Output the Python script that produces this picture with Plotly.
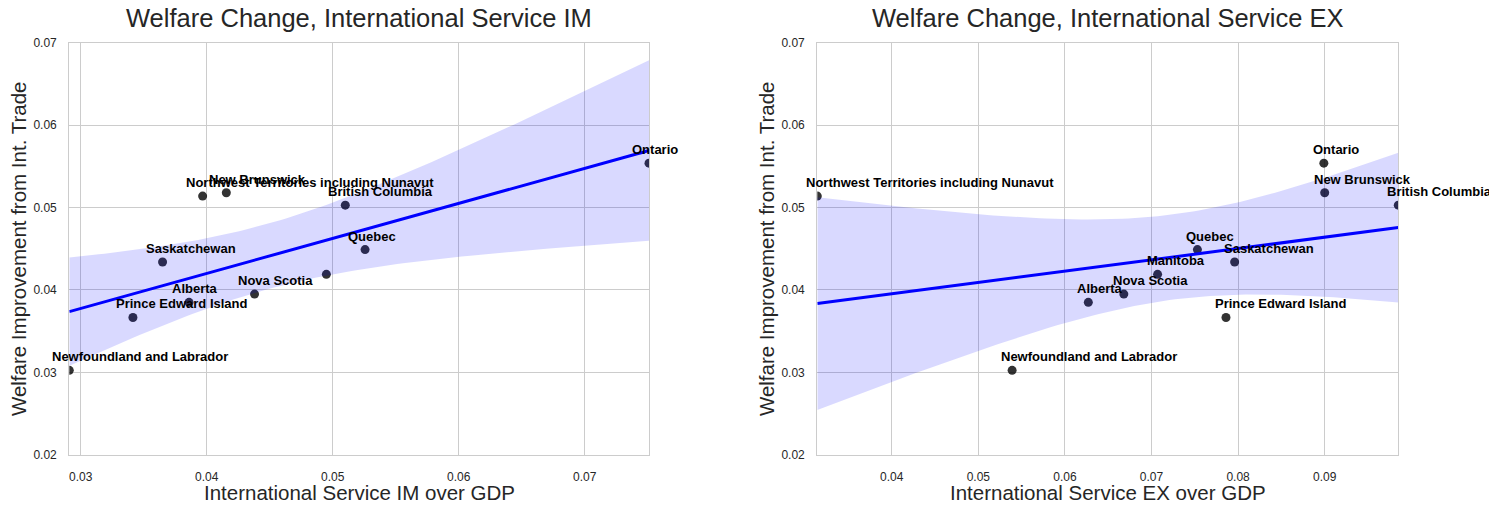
import numpy as np
import plotly.graph_objects as go

# Provincial data: welfare gain from international trade vs. service trade shares
provinces = [
    "Newfoundland and Labrador", "Prince Edward Island", "Nova Scotia",
    "New Brunswick", "Quebec", "Ontario", "Manitoba", "Saskatchewan",
    "Alberta", "British Columbia", "Northwest Territories including Nunavut",
]
welfare = [0.03024, 0.03666, 0.0395, 0.0518, 0.0449, 0.0554,
           0.0419, 0.0434, 0.0385, 0.0503, 0.0514]
service_im = [0.0291, 0.03415, 0.0438, 0.04156, 0.05257, 0.0751,
              0.0495, 0.0365, 0.0386, 0.0510, 0.03968]
service_ex = [0.0539, 0.0786, 0.0668, 0.0900, 0.0753, 0.0899,
              0.0707, 0.0796, 0.0627, 0.0985, 0.0314]

# Point labels shown on each panel
im_text = ["Newfoundland and Labrador", "Prince Edward Island", "Nova Scotia",
           "New Brunswick", "Quebec", "Ontario", "", "Saskatchewan",
           "Alberta", "British Columbia", "Northwest Territories including Nunavut"]
ex_text = list(provinces)

y_ticks = [0.02, 0.03, 0.04, 0.05, 0.06, 0.07]
im_ticks = [0.03, 0.04, 0.05, 0.06, 0.07]
ex_ticks = [0.04, 0.05, 0.06, 0.07, 0.08, 0.09]

titles = ["Welfare Change, International Service IM",
          "Welfare Change, International Service EX"]
x_titles = ["International Service IM over GDP", "International Service EX over GDP"]
y_title = "Welfare Improvement from Int. Trade"

W, H = 1489, 508
FONT = "Liberation Sans, Arial, sans-serif"
TEXT_COL = "#262626"
GRID = "#cccccc"


def fit_band(x, y, n=100, t=2.262):
    """OLS fit with a 95% confidence band for the mean (t, 9 dof)."""
    x = np.asarray(x, float)
    y = np.asarray(y, float)
    b, a = np.polyfit(x, y, 1)
    xs = np.linspace(x.min(), x.max(), n)
    yhat = a + b * xs
    resid = y - (a + b * x)
    s = np.sqrt((resid ** 2).sum() / (len(x) - 2))
    sxx = ((x - x.mean()) ** 2).sum()
    se = s * np.sqrt(1.0 / len(x) + (xs - x.mean()) ** 2 / sxx)
    return xs, yhat, yhat - t * se, yhat + t * se


fig = go.Figure()

# plot-area pixel boxes
panels = [
    dict(x=service_im, text=im_text, ticks=im_ticks, px=(69.3, 649.0), xshift=-19,
         xa="x", ya="y"),
    dict(x=service_ex, text=ex_text, ticks=ex_ticks, px=(817.3, 1398.3), xshift=-13,
         xa="x2", ya="y2"),
]
y_px = (36.9, 460.4)
ydom = [1 - y_px[1] / H, 1 - y_px[0] / H]

annotations = []
for i, p in enumerate(panels):
    xs, yhat, lo, hi = fit_band(p["x"], welfare)
    fig.add_trace(go.Scatter(
        x=p["x"], y=welfare, mode="markers", xaxis=p["xa"], yaxis=p["ya"],
        marker=dict(size=9, color="rgba(0,0,0,0.8)", line=dict(width=0)),
        showlegend=False, hoverinfo="skip"))
    fig.add_trace(go.Scatter(
        x=np.concatenate([xs, xs[::-1]]), y=np.concatenate([lo, hi[::-1]]),
        fill="toself", fillcolor="rgba(0,0,255,0.15)", line=dict(width=0),
        mode="lines", xaxis=p["xa"], yaxis=p["ya"], showlegend=False,
        hoverinfo="skip"))
    fig.add_trace(go.Scatter(
        x=xs, y=yhat, mode="lines", line=dict(color="#0000ff", width=3),
        xaxis=p["xa"], yaxis=p["ya"], showlegend=False, hoverinfo="skip"))

    for xv, yv, name in zip(p["x"], welfare, p["text"]):
        if not name:
            continue
        annotations.append(dict(
            x=xv, y=yv, xref=p["xa"], yref=p["ya"], text=name, showarrow=False,
            xanchor="left", yanchor="bottom", xshift=p["xshift"], yshift=4,
            font=dict(family=FONT, size=13, color="black", weight="bold")))

    x0, x1 = p["px"]
    dom = [x0 / W, x1 / W]
    cx = (x0 + x1) / 2 / W
    annotations.append(dict(
        x=cx, y=1 - 11 / H, xref="paper", yref="paper", text=titles[i],
        showarrow=False, xanchor="center", yanchor="middle",
        font=dict(family=FONT, size=25.5, color=TEXT_COL)))
    annotations.append(dict(
        x=cx, y=1 - 499 / H, xref="paper", yref="paper", text=x_titles[i],
        showarrow=False, xanchor="center", yanchor="middle",
        font=dict(family=FONT, size=20.5, color=TEXT_COL)))
    annotations.append(dict(
        x=(x0 - 51) / W, y=(ydom[0] + ydom[1]) / 2, xref="paper", yref="paper",
        text=y_title, showarrow=False, textangle=-90, xanchor="center",
        yanchor="middle", font=dict(family=FONT, size=20.5, color=TEXT_COL)))

    axis_common = dict(showgrid=True, gridcolor=GRID, gridwidth=1, zeroline=False,
                       showline=True, mirror=True, linecolor=GRID, linewidth=1.25,
                       ticks="outside", tickcolor="rgba(0,0,0,0)",
                       tickfont=dict(family=FONT, size=12, color=TEXT_COL),
                       tickformat=".2f")
    xkey = "xaxis" if i == 0 else "xaxis2"
    ykey = "yaxis" if i == 0 else "yaxis2"
    fig.update_layout(**{
        xkey: dict(domain=dom, range=[min(p["x"]), max(p["x"])],
                   tickvals=p["ticks"], ticklen=11, anchor=p["ya"], **axis_common),
        ykey: dict(domain=ydom, range=[0.02, 0.07], tickvals=y_ticks, ticklen=9,
                   anchor=p["xa"], **axis_common),
    })

fig.update_layout(
    width=W, height=H, margin=dict(l=0, r=0, t=0, b=0),
    paper_bgcolor="white", plot_bgcolor="white",
    annotations=annotations, showlegend=False,
)

fig.write_html("out.html")
